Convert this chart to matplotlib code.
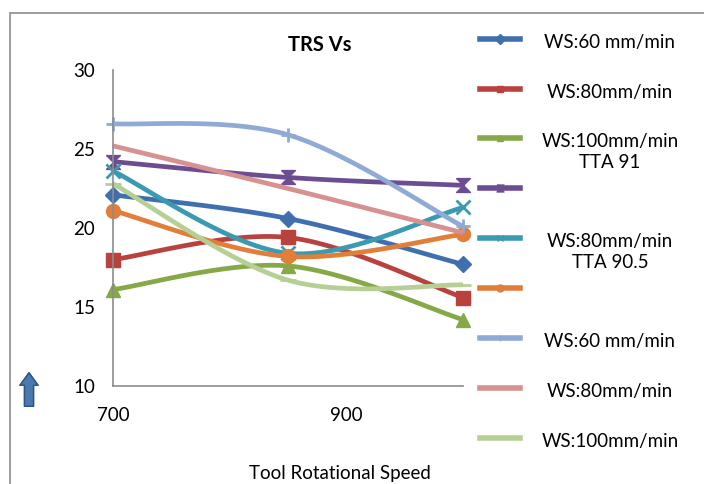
import matplotlib
matplotlib.use("Agg")
import matplotlib.pyplot as plt
from matplotlib.lines import Line2D
from matplotlib.patches import Rectangle
import numpy as np

plt.rcParams['font.family'] = ['Lato', 'DejaVu Sans']

speed = [700, 850, 1000]
labels = ["WS:60 mm/min", "WS:80mm/min", "WS:100mm/min\nTTA 91", "",
          "WS:80mm/min\nTTA 90.5", "", "WS:60 mm/min", "WS:80mm/min",
          "WS:100mm/min"]
trs = [
    [22.1, 20.6, 17.7],
    [18.0, 19.4, 15.6],
    [16.1, 17.6, 14.2],
    [24.2, 23.2, 22.7],
    [23.6, 18.4, 21.3],
    [21.1, 18.2, 19.6],
    [26.6, 25.9, 20.1],
    [25.2, 22.5, 19.7],
    [22.8, 16.7, 16.4],
]
colors = ['#3f6fae', '#b9413e', '#86a846', '#6d4d92', '#3a9ab2',
          '#e07e3a', '#8faad5', '#d69190', '#b5cf94']
hourglass = [(-1, 1), (1, 1), (-1, -1), (1, -1), (-1, 1)]
markers = ['D', 's', '^', hourglass, 'x', 'o', '+', None, '_']
msizes = [8, 10, 10, 10, 10, 10, 10, 0, 12]


def smooth(x, y, n=40):
    # Bezier smoothing like the spreadsheet "smoothed line"
    x = np.asarray(x, float)
    y = np.asarray(y, float)
    px = np.r_[x[0], x, x[-1]]
    py = np.r_[y[0], y, y[-1]]
    t = np.linspace(0, 1, n)[:, None]
    xs, ys = [], []
    for i in range(len(x) - 1):
        p0 = np.array([x[i], y[i]])
        p3 = np.array([x[i + 1], y[i + 1]])
        p1 = p0 + (np.array([px[i + 2], py[i + 2]]) - np.array([px[i], py[i]])) / 6
        p2 = p3 - (np.array([px[i + 3], py[i + 3]]) - np.array([px[i + 1], py[i + 1]])) / 6
        b = (1 - t) ** 3 * p0 + 3 * (1 - t) ** 2 * t * p1 + 3 * (1 - t) * t ** 2 * p2 + t ** 3 * p3
        xs.append(b[:, 0])
        ys.append(b[:, 1])
    return np.concatenate(xs), np.concatenate(ys)


fig = plt.figure(figsize=(7.04, 4.84), dpi=100)
W, H = 704, 484
ax = fig.add_axes([113 / W, 1 - 386 / H, 350 / W, (386 - 70) / H])

for vals, c, m, ms in zip(trs, colors, markers, msizes):
    sx, sy = smooth(speed, vals)
    ax.plot(sx, sy, color=c, lw=3.4, solid_capstyle='butt', clip_on=False)
    if m is not None:
        ax.plot(speed, vals, ls='none', marker=m, ms=ms, color=c, mec=c,
                mew=2 if m in ('x', '+', '_') else 1, clip_on=False)

ax.set_xlim(700, 1000)
ax.set_ylim(10, 30)
ax.set_xticks([700, 900])
ax.set_yticks([10, 15, 20, 25, 30])
ax.tick_params(length=0, labelsize=13.5)
ax.tick_params(axis='x', pad=15)
ax.tick_params(axis='y', pad=13)
for s in ['top', 'right']:
    ax.spines[s].set_visible(False)
for s in ['left', 'bottom']:
    ax.spines[s].set_color('#8c8c8c')
    ax.spines[s].set_linewidth(1.2)

fig.text(320 / W, 1 - 45 / H, "TRS Vs", fontsize=14.5, fontweight='bold',
         ha='center', va='center')
fig.text(340 / W, 1 - 474 / H, "Tool Rotational Speed", fontsize=13.5,
         ha='center', va='center')

# outer chart frame
fig.add_artist(Rectangle((10 / W, -0.1), 1.2, 1 - 13 / H + 0.1,
                         transform=fig.transFigure, fill=False,
                         ec='#8c8c8c', lw=1.2))

# blue arrow on the left
fig.add_artist(plt.annotate("", xy=(29, H - 370), xycoords='figure pixels',
                            xytext=(29, H - 409), textcoords='figure pixels',
                            arrowprops=dict(arrowstyle="simple,head_length=0.9,head_width=1.3,tail_width=0.65",
                                            fc='#4a78b0', ec='#2f5583', lw=1)))

# legend drawn by hand
leg_y = [39, 89, 138, 188, 238, 288, 338, 388, 438]
for yy, lab, c, m in zip(leg_y, labels, colors, markers):
    yf = 1 - yy / H
    fig.add_artist(Line2D([480 / W, 520 / W], [yf, yf], color=c, lw=4,
                          transform=fig.transFigure))
    if m is not None and m not in ('_',):
        fig.add_artist(Line2D([500 / W], [yf], color=c, marker=m, ms=5,
                              mec=c, transform=fig.transFigure))
    if lab:
        fig.text(610 / W, yf + 5 / H, lab, fontsize=13.5, ha='center', va='top',
                 linespacing=1.25)

fig.savefig("out.png", dpi=100)
